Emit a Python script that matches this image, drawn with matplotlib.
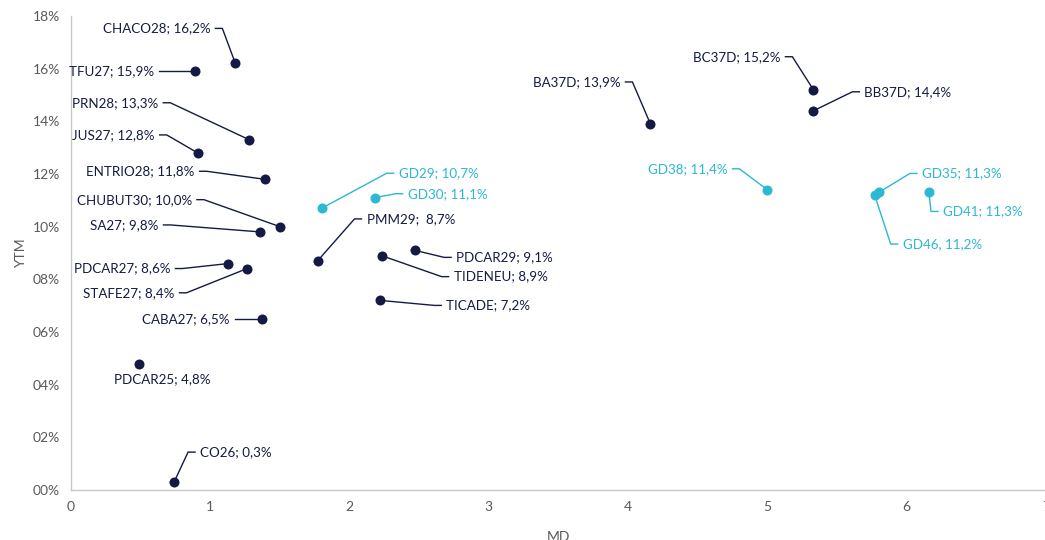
import matplotlib
matplotlib.use("Agg")
import matplotlib.pyplot as plt
from matplotlib.lines import Line2D
from matplotlib.transforms import IdentityTransform
from matplotlib.ticker import FuncFormatter

plt.rcParams['font.family'] = ['Lato', 'DejaVu Sans']

# ---------------- data ----------------
names = ["CHACO28", "TFU27", "PRN28", "JUS27", "ENTRIO28", "CHUBUT30", "SA27",
         "PDCAR27", "STAFE27", "CABA27", "PDCAR25", "CO26", "PMM29", "PDCAR29",
         "TIDENEU", "TICADE", "BA37D", "BC37D", "BB37D",
         "GD29", "GD30", "GD38", "GD35", "GD41", "GD46"]
md = [1.18, 0.89, 1.28, 0.91, 1.39, 1.50, 1.36,
      1.13, 1.26, 1.37, 0.49, 0.74, 1.77, 2.47,
      2.23, 2.22, 4.16, 5.33, 5.33,
      1.80, 2.18, 5.00, 5.80, 6.16, 5.77]
ytm = [16.2, 15.9, 13.3, 12.8, 11.8, 10.0, 9.8,
       8.6, 8.4, 6.5, 4.8, 0.3, 8.7, 9.1,
       8.9, 7.2, 13.9, 15.2, 14.4,
       10.7, 11.1, 11.4, 11.3, 11.3, 11.2]
group = ["corp"] * 19 + ["gd"] * 6
labels = ["CHACO28; 16,2%", "TFU27; 15,9%", "PRN28; 13,3%", "JUS27; 12,8%",
          "ENTRIO28; 11,8%", "CHUBUT30; 10,0%", "SA27; 9,8%", "PDCAR27; 8,6%",
          "STAFE27; 8,4%", "CABA27; 6,5%", "PDCAR25; 4,8%", "CO26; 0,3%",
          "PMM29;  8,7%", "PDCAR29; 9,1%", "TIDENEU; 8,9%", "TICADE; 7,2%",
          "BA37D; 13,9%", "BC37D; 15,2%", "BB37D; 14,4%",
          "GD29; 10,7%", "GD30; 11,1%", "GD38; 11,4%", "GD35; 11,3%",
          "GD41; 11,3%", "GD46, 11,2%"]
x_ticks = [0, 1, 2, 3, 4, 5, 6, 7]
y_ticks = [0, 2, 4, 6, 8, 10, 12, 14, 16, 18]

# ---------------- layout (label offsets in pixels, y downward) ----------------
label_layout = {
    "CHACO28": (-25, -35, "right", True),
    "TFU27": (-41, 0, "right", True),
    "PRN28": (-91, -37, "right", True),
    "JUS27": (-43, -18, "right", True),
    "ENTRIO28": (-70, -8, "right", True),
    "CHUBUT30": (-88, -27, "right", True),
    "SA27": (-102, -7, "right", True),
    "PDCAR27": (-58, 5, "right", True),
    "STAFE27": (-72, 24, "right", True),
    "CABA27": (-32, 0, "right", True),
    "PDCAR25": (23, 16, "center", False),
    "CO26": (26, -30, "left", True),
    "PMM29": (49, -42, "left", True),
    "PDCAR29": (41, 7, "left", True),
    "TIDENEU": (72, 21, "left", True),
    "TICADE": (66, 5, "left", True),
    "BA37D": (-30, -42, "right", True),
    "BC37D": (-33, -33, "right", True),
    "BB37D": (51, -19, "left", True),
    "GD29": (77, -35, "left", True),
    "GD30": (33, -4, "left", True),
    "GD38": (-40, -21, "right", True),
    "GD35": (43, -19, "left", True),
    "GD41": (14, 19, "left", True),
    "GD46": (28, 49, "left", True),
}

NAVY = "#141a43"
CYAN = "#2bb8d3"
colors = {"corp": NAVY, "gd": CYAN}

W, H = 1045, 540
fig = plt.figure(figsize=(W / 100, H / 100), dpi=100)
ax = fig.add_axes([71 / W, (H - 490) / H, (1046 - 71) / W, (490 - 16) / H])
ax.set_xlim(0, 7)
ax.set_ylim(0, 18)
ax.set_xticks(x_ticks)
ax.set_yticks(y_ticks)
ax.yaxis.set_major_formatter(FuncFormatter(lambda v, p: f"{int(round(v)):02d}%"))
ax.tick_params(length=0, labelsize=10, colors="#595959", pad=8)
for s in ["top", "right"]:
    ax.spines[s].set_visible(False)
for s in ["left", "bottom"]:
    ax.spines[s].set_color("#c8c8c8")
    ax.spines[s].set_linewidth(1.0)
ax.set_xlabel("MD", fontsize=10, color="#595959", labelpad=13)
ax.set_ylabel("YTM", fontsize=10, color="#595959", labelpad=4)

for g in ["corp", "gd"]:
    xs = [m for m, gg in zip(md, group) if gg == g]
    ys = [y for y, gg in zip(ytm, group) if gg == g]
    ax.scatter(xs, ys, s=52, color=colors[g], zorder=3, clip_on=False, linewidths=0)

fig.canvas.draw()
ident = IdentityTransform()
for n, x, y, g, lab in zip(names, md, ytm, group, labels):
    dx, dy, ha, leader = label_layout[n]
    px, py = ax.transData.transform((x, y))
    tx, ty = px + dx, py - dy
    c = colors[g]
    fig.text(tx, ty, lab, transform=ident, ha=ha, va="center", fontsize=9.6, color=c)
    if leader:
        sgn = 1 if ha == "right" else -1
        ex = tx + sgn * 5
        elx = ex + sgn * 7
        fig.add_artist(Line2D([px, elx, ex], [py, ty, ty], transform=ident,
                              color=c, lw=1.0))

fig.savefig("out.png", dpi=100)
